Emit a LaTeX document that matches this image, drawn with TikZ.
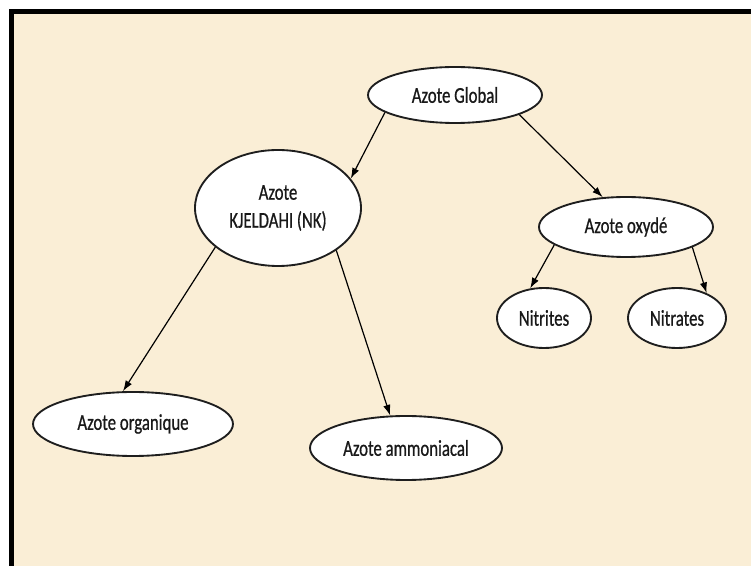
\documentclass[tikz,border=0pt]{standalone}
\usepackage{fontspec}
\setmainfont[FakeStretch=0.74,FakeBold=0.7]{Carlito}
\usetikzlibrary{shapes.geometric,arrows.meta}

\definecolor{parchment}{RGB}{250,238,214}
\definecolor{inkline}{RGB}{30,30,30}
\definecolor{inktext}{RGB}{25,25,25}

\tikzset{every picture/.style={line width=0.75pt}}
\tikzset{bubble/.style={ellipse,draw=inkline,line width=1.4pt,fill=white,text=inktext,inner sep=0.75pt,font=\fontsize{17}{21}\selectfont,align=center}}
\tikzset{link/.style={-{Latex[length=8pt,width=5.5pt]},line width=0.9pt,draw=black}}

\begin{document}
\begin{tikzpicture}[x=0.75pt,y=0.75pt,yscale=-1,xscale=1]
	\useasboundingbox (0,0) rectangle (751,566);
	%set diagram left start at 0, and has height of 566
	\fill [white] (0,0) rectangle (751,566);
	%Shape: Rectangle (background)
	\fill [parchment] (11.5,11.5) rectangle (751,566);
	%Straight Lines (frame)
	\draw [line width=3.75pt,line cap=rect] (11.5,566) -- (11.5,11.5) -- (751,11.5);
	
	%Shape: Ellipse
	\node [bubble,minimum width=130.5pt,minimum height=42pt] (glob) at (455,95) {Azote Global};
	%Shape: Ellipse
	\node [bubble,minimum width=124.5pt,minimum height=87pt] (kjel) at (278,208) {Azote\\KJELDAHI (NK)};
	%Shape: Ellipse
	\node [bubble,minimum width=130.5pt,minimum height=45pt] (oxyde) at (626,227) {Azote oxydé};
	%Shape: Ellipse
	\node [bubble,minimum width=70.5pt,minimum height=45pt] (nitri) at (544,318) {Nitrites};
	%Shape: Ellipse
	\node [bubble,minimum width=73.5pt,minimum height=45pt] (nitra) at (677,318) {Nitrates};
	%Shape: Ellipse
	\node [bubble,minimum width=150pt,minimum height=48pt] (orga) at (133,424) {Azote organique};
	%Shape: Ellipse
	\node [bubble,minimum width=144pt,minimum height=48pt] (ammo) at (406,448) {Azote ammoniacal};
	
	%Straight Lines
	\draw [link] (glob.194) -- (kjel.22);
	%Straight Lines
	\draw [link] (glob.343) -- (oxyde.128);
	%Straight Lines
	\draw [link] (kjel.212) -- (orga.107);
	%Straight Lines
	\draw [link] (kjel.324) -- (ammo.116);
	%Straight Lines
	\draw [link] (oxyde.194) -- (nitri.115);
	%Straight Lines
	\draw [link] (oxyde.343) -- (nitra.40);
	
\end{tikzpicture}
\end{document}
